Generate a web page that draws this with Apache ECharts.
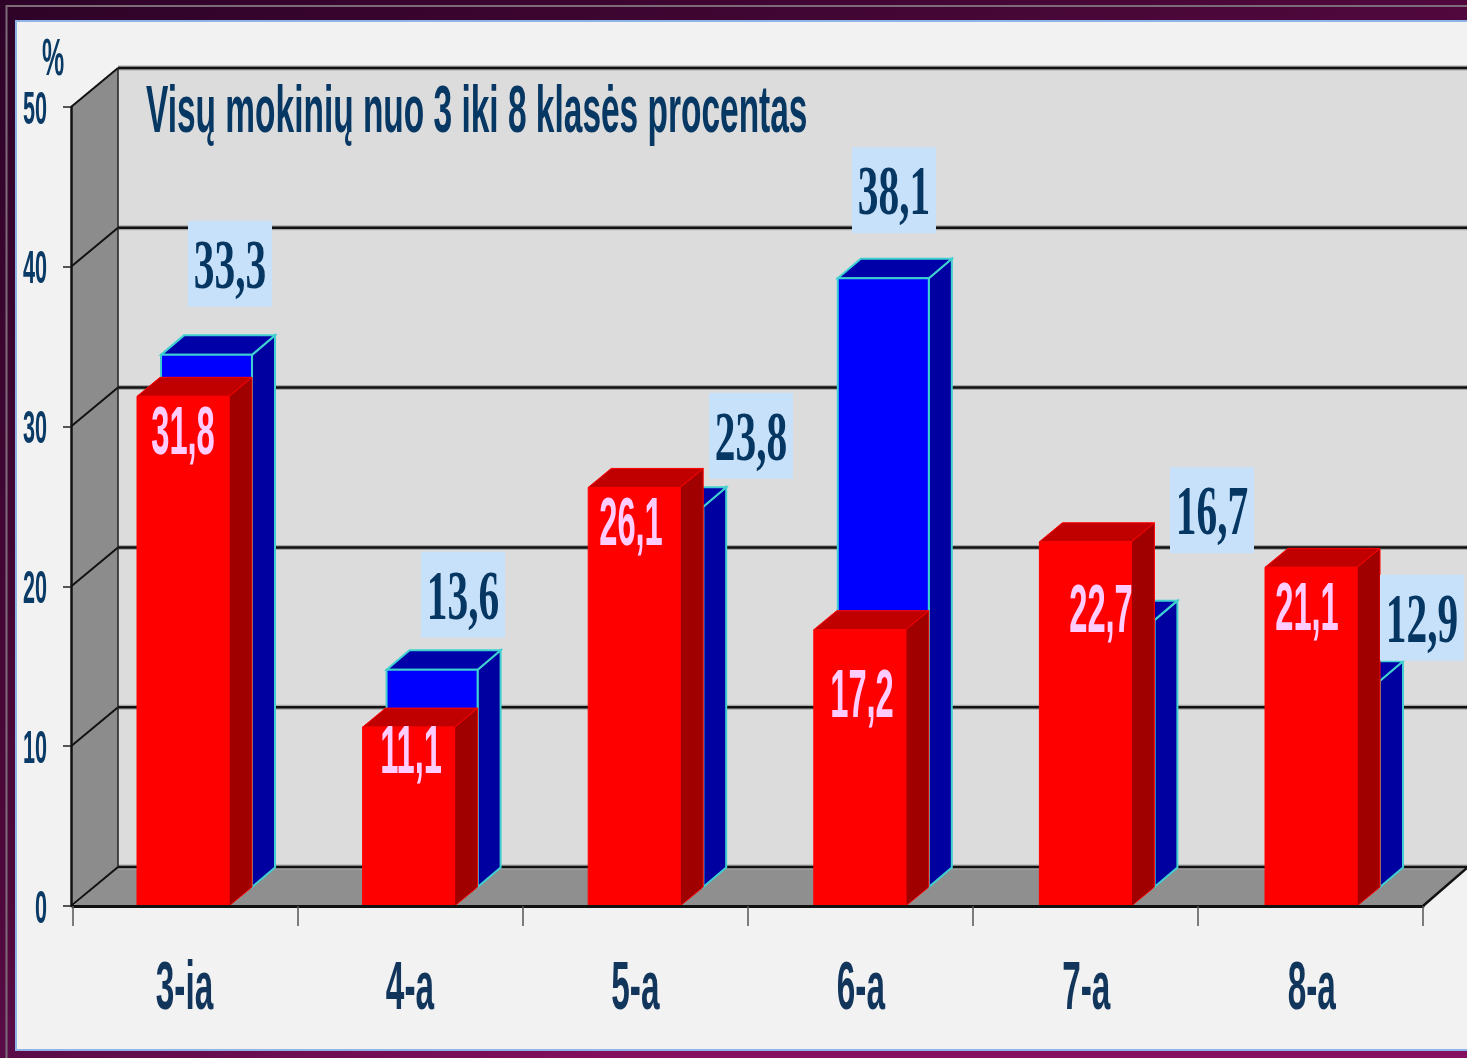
<!DOCTYPE html>
<html><head><meta charset="utf-8">
<style>html,body{margin:0;padding:0;background:#3a0530;overflow:hidden}#c{width:1467px;height:1058px}</style>
<script src="https://cdn.jsdelivr.net/npm/echarts@6/dist/echarts.min.js"></script>
</head><body><div id="c"></div>
<script>
const categories = ['3-ia','4-a','5-a','6-a','7-a','8-a'];
const redValues  = [31.8,11.1,26.1,17.2,22.7,21.1];
const blueValues = [33.3,13.6,23.8,38.1,16.7,12.9];
const yTicks = [0,10,20,30,40,50];
const titleText = 'Visų mokinių nuo 3 iki 8 klasės procentas';
const unitText = '%';
const blueLabelNudge = [[44.5,-110],[52.5,-94],[115.5,-90],[33.5,-107],[126.5,-129],[111.5,-82]];
const redLabelNudge  = [[-2.5,34],[0.5,23],[-4.5,34],[1.5,64],[15.5,67],[-3.5,39]];

const fmt = v => String(v).replace('.',',');
const DX = 45, DY = -39, DRIFT = 0.6, YOFF = 2;
const TICK = '#0a3a66', AXT = '#12355b';
const poly = (pts, fill, stroke, lw) => ({type:'polygon', shape:{points:pts}, style:{fill, stroke:stroke||null, lineWidth:lw||0}});
const line = (a,b,stroke,lw) => ({type:'line', shape:{x1:a[0],y1:a[1],x2:b[0],y2:b[1]}, style:{stroke,lineWidth:lw}});
const txt = (x,y,text,font,fill,sx,align) => ({type:'text', x, y, scaleX:sx, style:{text, font, fill, align:align||'center', verticalAlign:'middle'}});

function renderWalls(params, api){
  const half = api.size([1,0])[0]/2;
  const L = api.coord([0,0])[0]-half, R = api.coord([categories.length-1,0])[0]+half;
  const y0 = api.coord([0,0])[1], yTop = api.coord([0,50])[1];
  const far = R+DX+4, LA = L-YOFF;
  const kids = [
    poly([[L+DX,yTop+DY],[far,yTop+DY],[far,y0+DY],[L+DX,y0+DY]],'#dcdcdc'),
    poly([[LA,y0],[LA,yTop],[L+DX,yTop+DY],[L+DX,y0+DY]],'#8c8c8c'),
    poly([[L,y0],[R,y0],[R+DX,y0+DY],[L+DX,y0+DY]],'#8f8f8f'),
  ];
  yTicks.forEach(t=>{
    const y = api.coord([0,t])[1];
    kids.push(line([L+DX,y+DY],[far,y+DY],'#a8a8a8',5));
    kids.push(line([L+DX,y+DY],[far,y+DY],'#111',2.5));
    kids.push(line([LA,y],[L+DX,y+DY],'#111',2));
  });
  kids.push(line([L+DX,yTop+DY],[L+DX,y0+DY],'#222',1.5));
  kids.push(line([R,y0],[R+DX,y0+DY],'#111',2.5));
  return {type:'group', children:kids};
}
function box(x,w,yb,yt,d,dy,cFace,cTop,cSide,edge,lw){
  const fr=[[x,yb],[x+w,yb],[x+w,yt],[x,yt]];
  const top=[[x,yt],[x+w,yt],[x+w+d,yt+dy],[x+d,yt+dy]];
  const side=[[x+w,yb],[x+w+d,yb+dy],[x+w+d,yt+dy],[x+w,yt]];
  return {type:'group',children:[poly(side,cSide,edge,lw),poly(top,cTop,edge,lw),poly(fr,cFace,edge,lw)]};
}
function renderBlue(params, api){
  const i=api.value(0), p=api.coord([i,api.value(1)]), b=api.coord([i,0]);
  return box(p[0]-24.5+i*DRIFT,91,b[1]-19,p[1]-19,23,-19.5,'#0000ff','#0000a8','#0000a0','#3fcfd0',2);
}
function renderRed(params, api){
  const i=api.value(0), p=api.coord([i,api.value(1)]), b=api.coord([i,0]);
  return box(p[0]-48.5+i*DRIFT,92,b[1],p[1]-1.5,23,-19,'#ff0000','#c00000','#a00000','#ff0000',1);
}
function renderBlueLabel(params, api){
  const i=api.value(0), v=api.value(1), p=api.coord([i,v]), n=blueLabelNudge[i];
  const cx=p[0]+n[0], cy=p[1]+n[1];
  return {type:'group',children:[
    {type:'rect',shape:{x:cx-42,y:cy-43,width:84,height:86},style:{fill:'#c8e1fa'}},
    txt(cx,cy+6,fmt(v),'bold 69px "Liberation Serif"','#063763',0.6)
  ]};
}
function renderRedLabel(params, api){
  const i=api.value(0), v=api.value(1), p=api.coord([i,v]), n=redLabelNudge[i];
  return txt(p[0]+n[0],p[1]+n[1]+3,fmt(v),'bold 68px "Liberation Sans"','#ffccff',0.48);
}
function renderText(params, api){
  const kids=[];
  categories.forEach((c,i)=>{
    const p=api.coord([i,0]);
    kids.push(txt(p[0]-1+i*0.45,p[1]+84,c,'bold 68px "Liberation Sans"',AXT,0.49));
  });
  yTicks.forEach(t=>{
    const p=api.coord([0,t]), x=p[0]-api.size([1,0])[0]/2;
    kids.push(txt(x-26,p[1]+4,String(t),'bold 46px "Liberation Sans"',TICK,0.47,'right'));
  });
  kids.push(txt(53,61,unitText,'bold 52px "Liberation Sans"',TICK,0.48));
  kids.push(txt(146,114,titleText,'bold 66px "Liberation Sans"','#073763',0.507,'left'));
  return {type:'group',children:kids};
}
const idx = categories.map((c,i)=>i);
const chart = echarts.init(document.getElementById('c'),null,{renderer:'canvas'});
chart.setOption({
  animation:false,
  backgroundColor:{type:'linear',x:0,y:0,x2:0.45,y2:1,colorStops:[{offset:0,color:'#2e0328'},{offset:0.62,color:'#50083c'},{offset:0.72,color:'#5a0c48'},{offset:1,color:'#86105f'}]},
  graphic:{elements:[
    {type:'rect',z:-5,shape:{x:6.5,y:6,width:1500,height:1100},style:{fill:'transparent',stroke:'#7d6b7a',lineWidth:2}},
    {type:'rect',z:-4,shape:{x:16,y:21,width:1500,height:1029},style:{fill:'#f2f2f2',stroke:'#8fb4e8',lineWidth:2}}
  ]},
  grid:{left:73,top:107,width:1350,height:799,containLabel:false},
  tooltip:{show:false},
  xAxis:{type:'category',data:categories,z:10,
    axisLine:{onZero:false,lineStyle:{color:'#111',width:3}},
    axisTick:{show:true,alignWithLabel:false,length:20,lineStyle:{color:'#555',width:1.5}},
    axisLabel:{show:false},splitLine:{show:false}},
  yAxis:{type:'value',min:0,max:50,interval:10,z:10,offset:YOFF,
    axisLine:{show:true,lineStyle:{color:'#111',width:2.5}},
    axisTick:{show:true,length:8,lineStyle:{color:'#222',width:1.5}},
    axisLabel:{show:false},splitLine:{show:false}},
  series:[
    {type:'custom',z:1,silent:true,clip:false,renderItem:renderWalls,data:[[0,0]],encode:{x:0,y:1}},
    {type:'custom',name:'blue',z:3,silent:true,clip:false,renderItem:renderBlue,data:idx.map(i=>[i,blueValues[i]]),encode:{x:0,y:1}},
    {type:'custom',name:'red',z:4,silent:true,clip:false,renderItem:renderRed,data:idx.map(i=>[i,redValues[i]]),encode:{x:0,y:1}},
    {type:'custom',z:5,silent:true,clip:false,renderItem:renderBlueLabel,data:idx.map(i=>[i,blueValues[i]]),encode:{x:0,y:1}},
    {type:'custom',z:6,silent:true,clip:false,renderItem:renderRedLabel,data:idx.map(i=>[i,redValues[i]]),encode:{x:0,y:1}},
    {type:'custom',z:7,silent:true,clip:false,renderItem:renderText,data:[[0,0]],encode:{x:0,y:1}}
  ]
});
</script></body></html>
